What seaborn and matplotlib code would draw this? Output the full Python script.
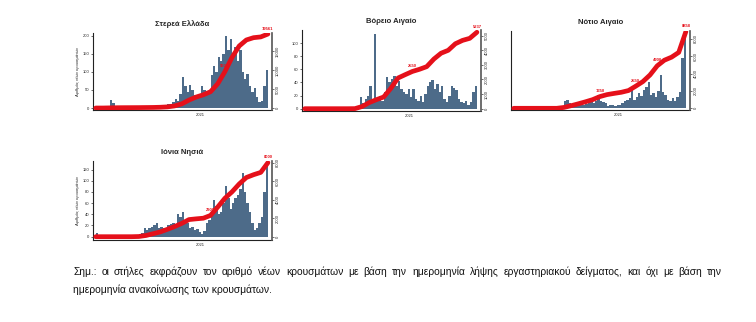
import numpy as np
import pandas as pd
import matplotlib
matplotlib.use("Agg")
import matplotlib.pyplot as plt
import seaborn as sns

# ---------------- data ----------------
start = "2020-03-01"
week_dates = pd.date_range(start, periods=72, freq="7D")   # weekly bars (daily average)
cum_dates = pd.date_range(start, periods=25, freq="21D")   # cumulative curve samples
year_tick = pd.Timestamp("2021-01-01")
year_label = "2021"

titles = ["Στερεά Ελλάδα", "Βόρειο Αιγαίο", "Νότιο Αιγαίο", "Ιόνια Νησιά"]
ylabel_text = "Αριθμός νέων κρουσμάτων"

sterea_new = [0, 0, 1, 2, 1, 3, 22, 15, 2,
              1, 0, 1, 0, 0, 1, 0, 1, 2, 1, 0, 1, 1, 2, 1, 2, 3, 2,
              5, 8, 6, 10, 12,
              18, 25, 20, 40, 85, 60, 45, 65, 50, 35, 28, 35, 60, 50, 40, 45, 90, 115, 100, 140,
              130, 150, 200, 160, 190, 140, 170, 130, 160, 100, 80, 95, 60, 45, 55, 30, 18, 20, 60, 105]
sterea_cum = [0, 0, 40, 80, 90, 100, 110, 130, 150, 200, 300, 550, 1100, 2100, 2900, 3500,
              4300, 6400, 9600, 13400, 16400, 18000, 18600, 18800, 19561]

voreio_new = [0, 0, 0, 0, 0, 0, 0, 0, 0, 0, 0, 0, 0, 0, 0, 0, 0, 0, 0, 0, 0, 0, 0,
              18, 8, 15, 20, 35, 10, 113, 15, 20, 12, 25, 48, 40, 45, 50, 35, 42, 30, 25, 22,
              30, 18, 30, 15, 12, 20, 10, 22, 35, 40, 44, 30, 38, 25, 35, 15, 10, 20, 35, 32,
              28, 15, 10, 8, 12, 6, 10, 25, 35]
voreio_cum = [0, 0, 0, 0, 0, 0, 0, 5, 150, 420, 620, 800, 1390, 2100, 2330, 2550, 2700, 2880,
              3400, 3800, 4000, 4450, 4680, 4820, 5237]

notio_new = [0, 0, 0, 0, 0, 0, 0, 0, 0, 0, 0, 0, 0, 0, 0, 0, 0, 0, 0, 0, 0,
             30, 33, 20, 15, 18, 12, 15, 20, 15, 18, 22, 25, 20, 30, 53, 30, 25, 20, 8, 12,
             15, 10, 12, 15, 20, 30, 35, 40, 73, 35, 45, 60, 50, 75, 85, 107, 55, 60, 45, 70,
             133, 65, 55, 35, 30, 40, 30, 45, 67, 200, 300]
notio_cum = [0, 0, 0, 0, 0, 0, 0, 100, 300, 520, 750, 1000, 1350, 1580, 1720, 1850, 2050, 2550,
             3080, 3850, 4900, 5550, 5900, 6450, 8858]

ionia_new = [7, 0, 0, 0, 0, 0, 0, 0, 0, 0, 1, 0, 0, 0, 0, 1, 0,
             2, 5, 6, 15, 12, 15, 18, 20, 24, 15, 18, 16, 12, 20, 22, 25, 20, 40, 35, 45,
             30, 25, 15, 18, 12, 14, 8, 5, 10, 25, 30, 40, 65, 55, 40, 45, 60, 90, 70, 50,
             60, 70, 75, 85, 113, 80, 60, 45, 25, 12, 15, 25, 35, 80, 134]
ionia_cum = [0, 0, 0, 0, 0, 0, 20, 130, 320, 520, 800, 1100, 1440, 1850, 1930, 2000, 2300, 3200,
             4150, 4850, 5700, 6400, 6700, 6950, 8000]

new_series = [sterea_new, voreio_new, notio_new, ionia_new]
cum_series = [sterea_cum, voreio_cum, notio_cum, ionia_cum]

left_ticks = [[0, 50, 100, 150, 200], [0, 20, 40, 60, 80, 100], [], [0, 20, 40, 60, 80, 100, 120]]
right_ticks = [[0, 5000, 10000, 15000], [0, 1000, 2000, 3000, 4000, 5000],
               [0, 2000, 4000, 6000, 8000], [0, 2000, 4000, 6000, 8000]]
label_idx = [[18, 24], [15, 24], [12, 17, 20, 24], [16, 24]]

footnote1 = ("Σημ.:  οι στήλες εκφράζουν τον αριθμό νέων κρουσμάτων με βάση την ημερομηνία λήψης "
             "εργαστηριακού δείγματος, και όχι με βάση την")
footnote2 = "ημερομηνία ανακοίνωσης των κρουσμάτων."

# ---------------- layout / style ----------------
W, H = 756, 322
BAR = "#4d6b89"
RED = "#e5101a"
FONT = ["Liberation Sans Narrow", "Liberation Sans", "DejaVu Sans"]

sns.set_style("white")
plt.rcParams["font.family"] = FONT

# axes boxes in pixels: (left, right_spine, top, bottom)
boxes = [(93, 272, 33, 110), (302, 481, 30, 111), (511, 690, 31, 110), (93, 272, 161, 240)]
left_lims = [(-5.5, 207.5), (-3.5, 119.8), (-6.8, 309), (-5.9, 135.2)]
right_lims = [(-526, 19837), (-158, 5391), (-196, 8920), (-357, 8183)]

fig = plt.figure(figsize=(W / 100, H / 100), dpi=100)
t0 = pd.Timestamp(start)
bar_x = (week_dates - t0).days.values + 3.5
cum_x = (cum_dates - t0).days.values
year_x = (year_tick - t0).days

for k in range(4):
    l, r, t, b = boxes[k]
    ax = fig.add_axes([l / W, 1 - b / H, (r - l) / W, (b - t) / H])
    df = pd.DataFrame({"x": bar_x, "y": new_series[k]})
    sns.barplot(data=df, x="x", y="y", native_scale=True, width=1.0, color=BAR,
                saturation=1, errorbar=None, ax=ax, linewidth=0)
    ax.set_xlim(-8, 516)
    ax.set_ylim(*left_lims[k])
    ax.set_xticks([year_x])
    ax.set_xticklabels([year_label], fontsize=3)
    ax.set_xlabel("")
    ax.set_ylabel("")
    if left_ticks[k]:
        ax.set_yticks(left_ticks[k])
        ax.set_yticklabels([str(v) for v in left_ticks[k]], fontsize=3)
    else:
        ax.set_yticks([])
    if k in (0, 3):
        ax.set_ylabel(ylabel_text, fontsize=3, labelpad=2)
    ax.tick_params(axis="both", length=1.5, width=0.5, pad=1, color="#333333")
    for s in ["top", "right"]:
        ax.spines[s].set_visible(False)
    for s in ["left", "bottom"]:
        ax.spines[s].set_color("#222222")
        ax.spines[s].set_linewidth(0.8)

    ax2 = ax.twinx()
    cdf = pd.DataFrame({"x": cum_x, "y": cum_series[k]})
    sns.lineplot(data=cdf, x="x", y="y", color=RED, linewidth=3.4, ax=ax2,
                 solid_capstyle="round")
    ax2.set_ylim(*right_lims[k])
    ax2.set_xlim(-8, 516)
    ax2.set_yticks(right_ticks[k])
    ax2.set_yticklabels([str(v) for v in right_ticks[k]], fontsize=3, rotation=90, va="center")
    ax2.set_ylabel("")
    ax2.tick_params(axis="y", length=1.5, width=0.5, pad=1, color="#333333")
    for s in ["top", "left", "bottom"]:
        ax2.spines[s].set_visible(False)
    ax2.spines["right"].set_color("#555555")
    ax2.spines["right"].set_linewidth(1.2)
    for i in label_idx[k]:
        v = cum_series[k][i]
        ax2.annotate(f"{v}", (cum_x[i], v), xytext=(0, 2.5), textcoords="offset points",
                     ha="center", va="bottom",
                     fontsize=3, color=RED, fontweight="bold")
    ax.set_title(titles[k], fontsize=5.5, fontweight="bold", pad=5)

# justified first footnote line
FS = 7.4
renderer = fig.canvas.get_renderer()
words = footnote1.split()
x_left, x_right = 73, 722
objs = [fig.text(0, 1 - 272 / H, w, fontsize=FS, va="center", ha="left", color="#111111")
        for w in words]
widths = [o.get_window_extent(renderer).width for o in objs]
gap = (x_right - x_left - sum(widths)) / (len(words) - 1)
xpos = x_left
for o, wdt in zip(objs, widths):
    o.set_x(xpos / W)
    xpos += wdt + gap
fig.text(73 / W, 1 - 290 / H, footnote2, fontsize=FS, va="center", ha="left", color="#111111")

fig.savefig("out.png", dpi=100, facecolor="white")
